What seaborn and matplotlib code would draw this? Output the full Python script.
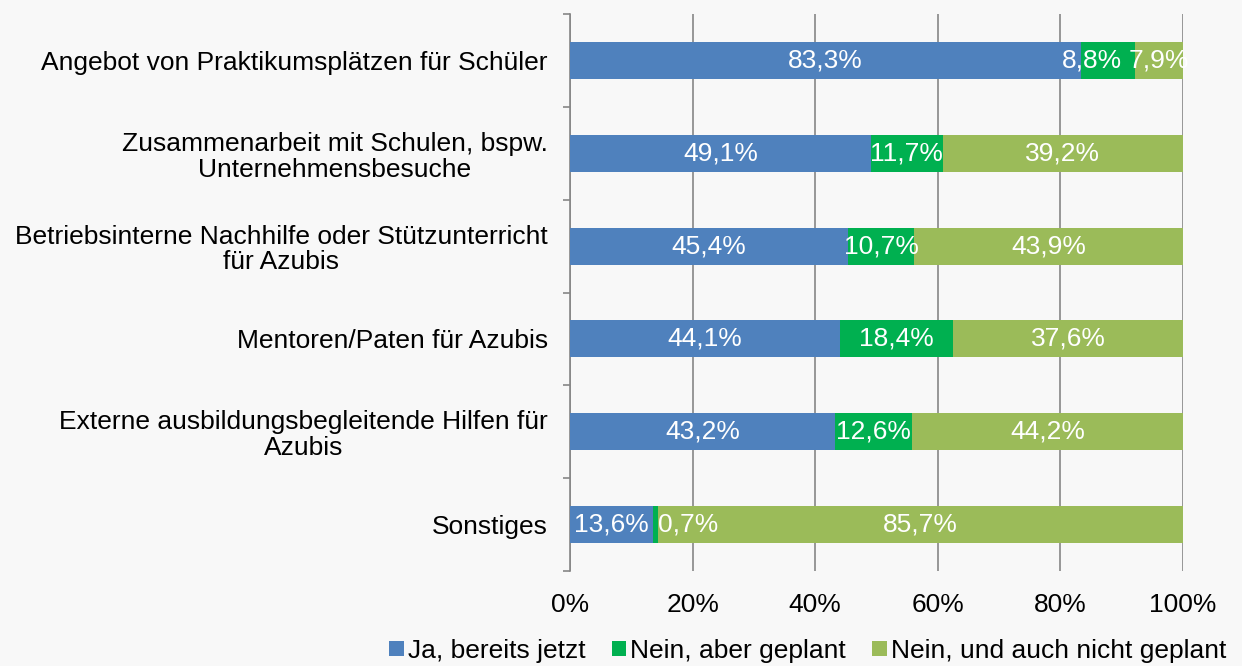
import matplotlib
matplotlib.use("Agg")
import matplotlib.pyplot as plt
from matplotlib.patches import Patch
from matplotlib.ticker import FuncFormatter, FixedLocator
import seaborn as sns
import pandas as pd
import numpy as np

categories = [
    "Angebot von Praktikumsplätzen für Schüler",
    "Zusammenarbeit mit Schulen, bspw.\nUnternehmensbesuche",
    "Betriebsinterne Nachhilfe oder Stützunterricht\nfür Azubis",
    "Mentoren/Paten für Azubis",
    "Externe ausbildungsbegleitende Hilfen für\nAzubis",
    "Sonstiges",
]
series_names = ["Ja, bereits jetzt", "Nein, aber geplant", "Nein, und auch nicht geplant"]
ja = [83.3, 49.1, 45.4, 44.1, 43.2, 13.6]
geplant = [8.8, 11.7, 10.7, 18.4, 12.6, 0.7]
nicht = [7.9, 39.2, 43.9, 37.6, 44.2, 85.7]
colors = ["#4f81bd", "#00b050", "#9bbb59"]

sns.set_theme(style="white")
plt.rcParams["font.family"] = ["Liberation Sans", "DejaVu Sans"]
plt.rcParams["text.color"] = "black"

FS = 19
bg = "#f8f8f8"
fig = plt.figure(figsize=(12.42, 6.66), dpi=100, facecolor=bg)
ax = fig.add_axes([0.459, 0.1426, 0.4935, 0.8364])
ax.set_facecolor(bg)

df = pd.DataFrame({"cat": categories, "ja": ja, "geplant": geplant, "nicht": nicht})
df["c1"] = df["ja"]
df["c2"] = df["ja"] + df["geplant"]
df["c3"] = df["c2"] + df["nicht"]

for col, colr in zip(["c3", "c2", "c1"], colors[::-1]):
    sns.barplot(data=df, y="cat", x=col, color=colr, orient="h", width=0.4,
                ax=ax, saturation=1, zorder=3, edgecolor="none", linewidth=0)

ax.set_xlim(0, 100)
ax.set_ylim(len(categories) - 0.5, -0.5)
ax.set_xlabel("")
ax.set_ylabel("")

ax.xaxis.set_major_locator(FixedLocator([0, 20, 40, 60, 80, 100]))
ax.xaxis.set_major_formatter(FuncFormatter(lambda v, p: f"{int(v)}%"))
ax.grid(axis="x", color="#868686", linewidth=1.2, zorder=0)
ax.set_axisbelow(True)
for s in ["top", "right", "bottom"]:
    ax.spines[s].set_visible(False)
ax.spines["left"].set_color("#868686")
ax.spines["left"].set_linewidth(1.2)

ax.tick_params(axis="x", length=0, pad=16, labelsize=FS, colors="black")
ax.tick_params(axis="y", which="major", length=0, pad=16, labelsize=FS, colors="black")
ax.yaxis.set_minor_locator(FixedLocator(np.arange(-0.5, len(categories), 1.0)))
ax.tick_params(axis="y", which="minor", length=5, width=1.2, color="#868686", left=True)
for lab in ax.get_yticklabels():
    lab.set_multialignment("center")
    lab.set_linespacing(1.1)

for i in range(len(categories)):
    left = 0
    row = [ja[i], geplant[i], nicht[i]]
    for k, v in enumerate(row):
        txt = f"{v:.1f}%".replace(".", ",")
        if v < 2:
            ax.text(left + v, i, txt, ha="left", va="center", color="white",
                    fontsize=FS, zorder=5)
        else:
            cx = left + v / 2
            if v < 10 and k + 1 < len(row) and row[k + 1] < 10:
                cx -= 2.6
            ax.text(cx, i, txt, ha="center", va="center", color="white",
                    fontsize=FS, zorder=5)
        left += v

handles = [Patch(facecolor=c, edgecolor="none", label=n) for c, n in zip(colors, series_names)]
leg = fig.legend(handles=handles, loc="lower right", bbox_to_anchor=(1.0, -0.019), ncol=3,
                 frameon=False, fontsize=FS, handlelength=0.55, handleheight=0.55,
                 handletextpad=0.15, columnspacing=1.0, borderaxespad=0.2)
for t in leg.get_texts():
    t.set_color("black")

fig.savefig("out.png", dpi=100, facecolor=bg)
